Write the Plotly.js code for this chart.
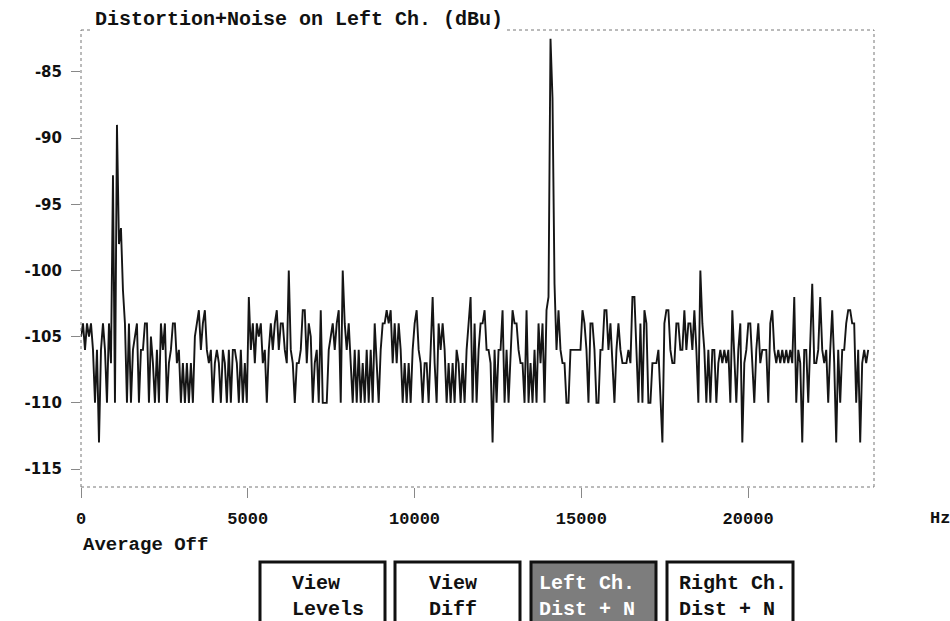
<!DOCTYPE html>
<html>
<head>
<meta charset="utf-8">
<script src="https://cdn.plot.ly/plotly-3.0.1.min.js"></script>
<style>html,body{margin:0;padding:0;background:#fff;}#chart{width:950px;height:621px;}</style>
</head>
<body>
<div id="chart"></div>
<script>
// Frequency bin spacing of the analyser trace (Hz)
const BIN_HZ = 59.9;

// Distortion + noise level on the left channel, dBu, one value per bin
const levelsDbu = [
  // 0 – ~6 kHz
  -105,-104,-106,-104,-105,-104,-106,-110,-106,-113,
  -106,-104,-106,-110,-104,-107,-92.8,-110,-89,-98,
  -96.8,-101.5,-104,-110,-104,-110,-106,-105,-104,-110,
  -106,-106,-104,-104,-110,-105,-107,-110,-106,-110,
  -104,-106,-104,-110,-107,-106,-104,-104,-107,-106,
  -110,-107,-110,-107,-110,-107,-110,-105,-104,-103,
  -106,-104,-103,-106,-107,-106,-110,-107,-106,-107,
  -110,-106,-107,-110,-106,-110,-106,-106,-107,-110,
  -106,-110,-107,-110,-102,-106,-104,-107,-104,-105,
  -104,-107,-106,-110,-106,-104,-106,-104,-103,-106,
  -104,
  // ~6 – 12 kHz
  -104,-106,-107,-100,-106,-107,-110,-107,-107,-106,
  -103,-103,-107,-104,-105,-110,-107,-106,-110,-103,
  -110,-110,-110,-106,-105,-104,-106,-104,-103,-110,
  -100,-104,-106,-104,-107,-110,-106,-110,-106,-110,
  -107,-110,-106,-110,-106,-110,-104,-107,-110,-106,
  -104,-104,-103,-104,-103,-107,-104,-107,-104,-106,
  -110,-107,-110,-107,-110,-106,-104,-103,-106,-107,
  -110,-107,-107,-110,-106,-102,-107,-110,-104,-106,
  -104,-106,-110,-107,-110,-107,-110,-106,-107,-110,
  -107,-110,-106,-104,-102,-110,-104,-110,-106,-104,
  // ~12 – 18 kHz
  -104,-103,-106,-106,-107,-113,-106,-110,-106,-106,
  -103,-110,-106,-110,-106,-103,-104,-104,-106,-107,
  -107,-110,-103,-110,-107,-110,-106,-110,-104,-107,
  -104,-110,-103,-102,-82.5,-87,-101,-106,-103,-106,
  -107,-107,-110,-110,-106,-106,-106,-106,-106,-106,
  -103,-104,-106,-110,-104,-104,-106,-110,-110,-106,
  -106,-103,-103,-106,-104,-107,-110,-106,-104,-106,
  -107,-107,-107,-106,-107,-102,-102,-106,-110,-104,
  -110,-103,-104,-110,-110,-107,-107,-107,-106,-110,
  -113,-104,-103,-103,-106,-107,-107,-104,-104,-106,
  // ~18 – 23.6 kHz
  -106,-103,-106,-104,-104,-106,-103,-106,-110,-100,
  -104,-106,-110,-106,-110,-106,-106,-110,-107,-106,
  -107,-106,-107,-106,-110,-103,-107,-110,-106,-104,
  -113,-107,-106,-104,-104,-107,-110,-106,-104,-107,
  -106,-106,-106,-110,-104,-103,-106,-107,-106,-107,
  -106,-107,-106,-107,-106,-107,-102,-110,-106,-107,
  -113,-106,-106,-110,-106,-101,-107,-107,-106,-102,
  -106,-107,-106,-110,-106,-103,-107,-113,-106,-110,
  -106,-106,-104,-103,-103,-104,-104,-110,-106,-113,
  -107,-106,-107,-106
];

const freqHz = levelsDbu.map((_, i) => i * BIN_HZ);

const xTickVals = [0, 5000, 10000, 15000, 20000];
const xTickText = ['0', '5000', '10000', '15000', '20000'];
const yTickVals = [-85, -90, -95, -100, -105, -110, -115];
const yTickText = ['-85', '-90', '-95', '-100', '-105', '-110', '-115'];

const titleText = 'Distortion+Noise on Left Ch. (dBu)';
const unitText = 'Hz';
const statusText = 'Average Off';
const buttonLabels = ['View<br>Levels', 'View<br>Diff', 'Left Ch.<br>Dist + N', 'Right Ch.<br>Dist + N'];

// ---- layout geometry (pixels -> paper) ----
const W = 950, H = 621, L = 81, R = 874, T = 30, B = 487;
const px = x => (x - L) / (R - L);
const py = y => (B - y) / (B - T);

const mono = 'Liberation Mono, Courier New, monospace';
const dotted = {color: '#777', width: 1, dash: 'dot'};

const shapes = [
  {type: 'line', xref: 'paper', yref: 'paper', x0: 0, x1: 0, y0: 0, y1: 1, line: dotted},
  {type: 'line', xref: 'paper', yref: 'paper', x0: 1, x1: 1, y0: 0, y1: 1, line: dotted},
  {type: 'line', xref: 'paper', yref: 'paper', x0: 0, x1: 1, y0: 0, y1: 0, line: dotted},
  {type: 'line', xref: 'paper', yref: 'paper', x0: 0, x1: px(90), y0: 1, y1: 1, line: dotted},
  {type: 'line', xref: 'paper', yref: 'paper', x0: px(507), x1: 1, y0: 1, y1: 1, line: dotted}
];

const boxes = [[260, 385], [395, 520], [531, 656], [667, 793]];
const textX = [290, 427, 537, 677];
const annotations = [
  {text: unitText, xref: 'paper', yref: 'paper', x: px(940), y: py(518), xanchor: 'center', yanchor: 'middle',
   showarrow: false, font: {family: mono, size: 17, color: '#111', weight: 'bold'}},
  {text: statusText, xref: 'paper', yref: 'paper', x: px(81), y: py(545), xanchor: 'left', yanchor: 'middle',
   showarrow: false, font: {family: mono, size: 19, color: '#111', weight: 'bold'}}
];
boxes.forEach((b, i) => {
  const active = i === 2;
  shapes.push({type: 'rect', xref: 'paper', yref: 'paper', x0: px(b[0]), x1: px(b[1]), y0: py(562), y1: py(640),
    line: {color: '#111', width: 3}, fillcolor: active ? '#7d7d7d' : 'rgba(0,0,0,0)'});
  annotations.push({text: buttonLabels[i], xref: 'paper', yref: 'paper', x: px(textX[i]), y: py(596),
    xanchor: 'left', yanchor: 'middle', align: 'left', showarrow: false,
    font: {family: mono, size: 20, color: active ? '#ffffff' : '#111', weight: 'bold'}});
});

const trace = {
  x: freqHz, y: levelsDbu, type: 'scatter', mode: 'lines',
  line: {color: '#151515', width: 1.9}, hoverinfo: 'skip'
};

const layout = {
  width: W, height: H,
  margin: {l: L, r: W - R, t: T, b: H - B, pad: 0},
  paper_bgcolor: '#fff', plot_bgcolor: '#fff',
  showlegend: false,
  title: {text: titleText, xref: 'container', yref: 'container', x: 95 / W, xanchor: 'left',
          y: 1 - 18 / H, yanchor: 'middle', font: {family: mono, size: 20, color: '#111', weight: 'bold'}},
  xaxis: {range: [0, 23775], showgrid: false, zeroline: false, showline: false,
          ticks: 'outside', ticklen: 10, tickwidth: 1, tickcolor: '#888',
          tickvals: xTickVals, ticktext: xTickText, ticklabelstandoff: 6,
          tickfont: {family: mono, size: 17, color: '#111', weight: 'bold'}},
  yaxis: {range: [-116.36, -81.83], showgrid: false, zeroline: false, showline: false,
          ticks: 'outside', ticklen: 9, tickwidth: 1, tickcolor: '#888',
          tickvals: yTickVals, ticktext: yTickText, ticklabelstandoff: 6,
          tickfont: {family: 'DejaVu Sans, sans-serif', size: 15, color: '#111', weight: 'bold'}},
  shapes: shapes,
  annotations: annotations
};

Plotly.newPlot('chart', [trace], layout, {staticPlot: true, displayModeBar: false});
</script>
</body>
</html>
